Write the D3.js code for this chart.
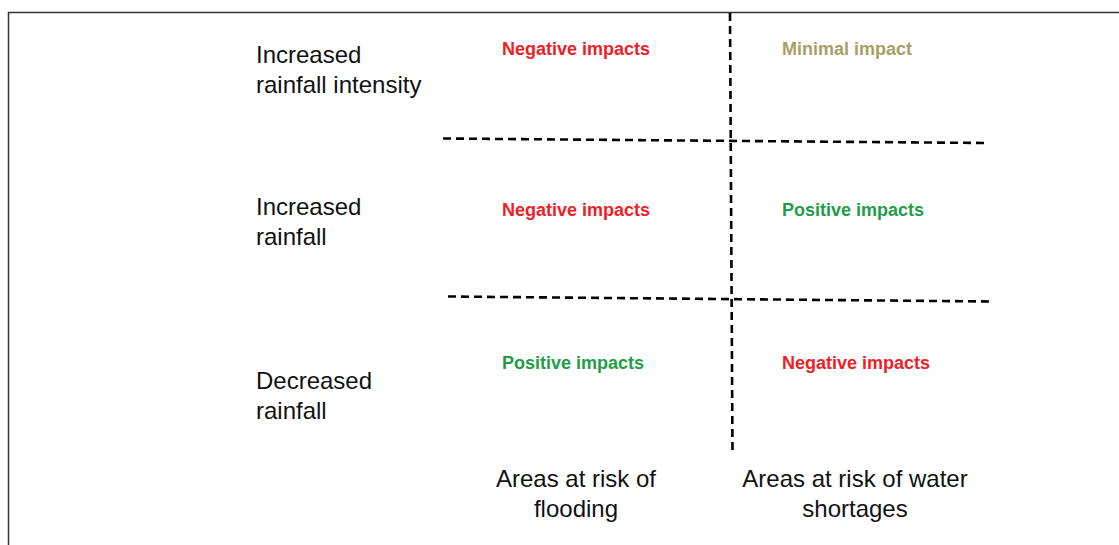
<!DOCTYPE html>
<html lang="en">
<head>
    <meta charset="UTF-8">
    <title>Rainfall impacts</title>
    <script src="https://d3js.org/d3.v7.min.js"></script>
    <style>
        body { margin: 0; background: #fff; font-family: "Liberation Sans", Arial, sans-serif; }
        .rowlab, .collab { font-size: 24px; fill: #111; }
        .impact { font-size: 18px; font-weight: bold; }
        .divider { stroke: #000; stroke-width: 2.6; stroke-dasharray: 8,5; fill: none; }
        .frame { stroke: #333; stroke-width: 1.5; fill: none; }
    </style>
</head>
<body>
    <svg width="1119" height="545"></svg>
    <script>
        // Data
        const rows = [["Increased", "rainfall intensity"], ["Increased", "rainfall"], ["Decreased", "rainfall"]];
        const columns = [["Areas at risk of", "flooding"], ["Areas at risk of water", "shortages"]];
        const impacts = [
            ["Negative impacts", "Minimal impact"],
            ["Negative impacts", "Positive impacts"],
            ["Positive impacts", "Negative impacts"]
        ];

        const colour = {
            "Negative impacts": "#ee2127",
            "Positive impacts": "#1f9d48",
            "Minimal impact": "#a99e66"
        };

        const svg = d3.select("svg");

        // frame (top and left edges only)
        svg.append("path").attr("class", "frame").attr("d", "M8.5,545V12.5H1119");

        // layout: row label baselines, impact baselines, column x positions
        const rowY = d3.scaleOrdinal().domain([0, 1, 2]).range([63, 215, 389]);
        const impactY = d3.scaleOrdinal().domain([0, 1, 2]).range([55, 216, 369]);
        const colX = d3.scaleOrdinal().domain([0, 1]).range([502, 782]);
        const colCenter = d3.scaleOrdinal().domain([0, 1]).range([576, 855]);
        const lineH = 29.5;

        // dashed dividers
        svg.append("line").attr("class", "divider")
            .attr("x1", 730).attr("y1", 13).attr("x2", 732.5).attr("y2", 453);
        svg.append("line").attr("class", "divider")
            .attr("x1", 443).attr("y1", 138.5).attr("x2", 987).attr("y2", 143);
        svg.append("line").attr("class", "divider")
            .attr("x1", 448).attr("y1", 296.5).attr("x2", 991).attr("y2", 301.5);

        // row labels
        rows.forEach((r, i) => {
            const t = svg.append("text").attr("class", "rowlab").attr("x", 256).attr("y", rowY(i));
            r.forEach((s, k) => t.append("tspan").attr("x", 256).attr("dy", k ? lineH : 0).text(s));
        });

        // impact cells
        impacts.forEach((row, i) => {
            row.forEach((v, j) => {
                svg.append("text").attr("class", "impact")
                    .attr("x", colX(j)).attr("y", impactY(i))
                    .attr("fill", colour[v]).text(v);
            });
        });

        // column labels
        columns.forEach((c, j) => {
            const t = svg.append("text").attr("class", "collab")
                .attr("text-anchor", "middle").attr("y", 487);
            c.forEach((s, k) => t.append("tspan").attr("x", colCenter(j)).attr("dy", k ? lineH : 0).text(s));
        });
    </script>
</body>
</html>
